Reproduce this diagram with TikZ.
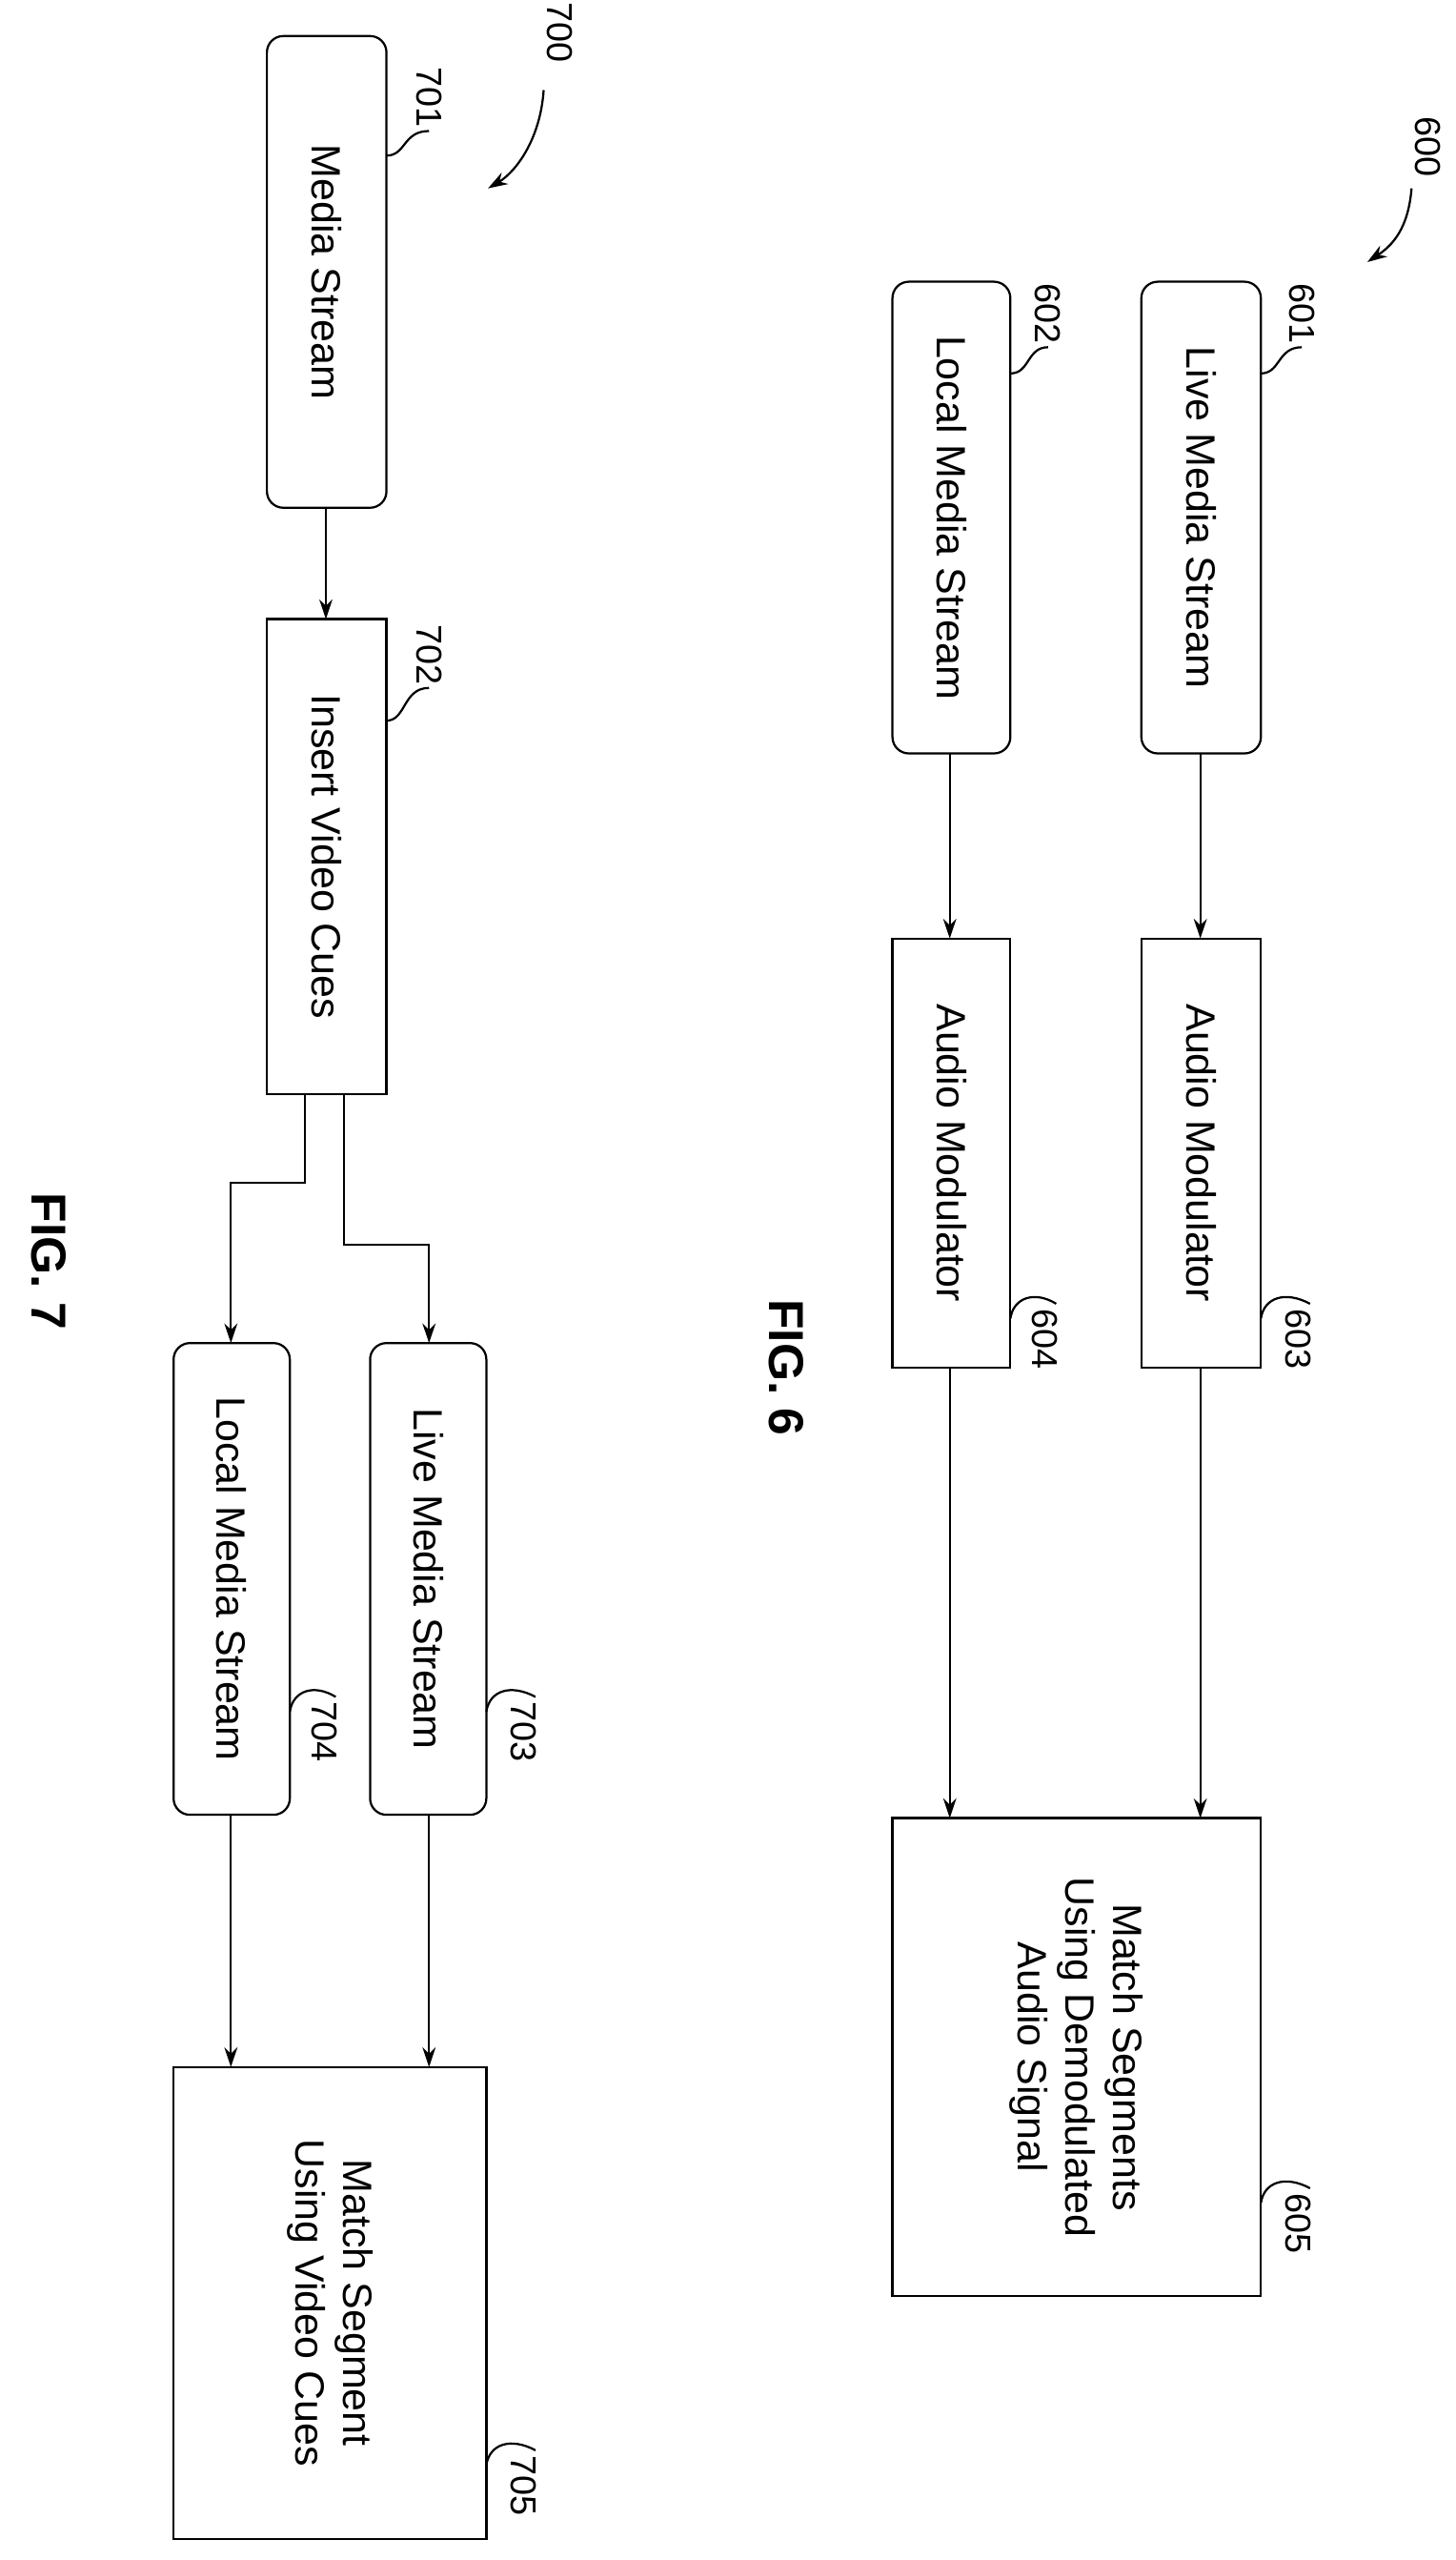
\documentclass[tikz,border=0pt]{standalone}
\usepackage{fontspec}
\setmainfont{Liberation Sans}
\usetikzlibrary{arrows.meta}
\begin{document}
\begin{tikzpicture}[x=1pt,y=-1pt,
  box/.style={draw,line width=1.3pt,inner sep=0pt},
  rbox/.style={box,rounded corners=10pt},
  txt/.style={rotate=-90,font=\fontsize{25}{29}\selectfont,align=center},
  lab/.style={rotate=-90,font=\fontsize{22}{26}\selectfont,anchor=west,inner sep=1pt},
  arr/.style={line width=1.3pt,-{Stealth[length=12pt,width=8pt]}},
  ln/.style={line width=1.3pt}]
\useasboundingbox (0,0) rectangle (889,1563);
% FIG 6
\draw[rbox] (697,172) rectangle (770,460) node[txt,midway] (n601) {Live Media Stream};
\draw[rbox] (545,172) rectangle (617,460) node[txt,midway] (n602) {Local Media Stream};
\draw[box] (697,573) rectangle (770,835) node[txt,midway] (n603) {Audio Modulator};
\draw[box] (545,573) rectangle (617,835) node[txt,midway] (n604) {Audio Modulator};
\draw[box] (545,1110) rectangle (770,1402) node[txt,midway] (n605) {Match Segments\\Using Demodulated\\Audio Signal};
\coordinate (a1) at (733,460); \coordinate (a2) at (733,573);
\draw[arr] (a1) -- (a2);
\coordinate (b1) at (580,460); \coordinate (b2) at (580,573);
\draw[arr] (b1) -- (b2);
\coordinate (c1) at (733,835); \coordinate (c2) at (733,1110);
\draw[arr] (c1) -- (c2);
\coordinate (d1) at (580,835); \coordinate (d2) at (580,1110);
\draw[arr] (d1) -- (d2);
\node[lab] (l601) at (795,172) {601};
\draw[ln] (770,228) .. controls (782,228) and (780,212) .. (795,212);
\node[lab] (l602) at (640,172) {602};
\draw[ln] (617,228) .. controls (629,228) and (627,212) .. (640,212);
\node[lab] (l603) at (793,798) {603};
\draw[ln] (770,805) .. controls (772,792) and (785,788) .. (800,796);
\node[lab] (l604) at (638,798) {604};
\draw[ln] (617,805) .. controls (619,792) and (632,788) .. (645,796);
\node[lab] (l605) at (793,1338) {605};
\draw[ln] (770,1345) .. controls (772,1332) and (785,1328) .. (800,1336);
\node[lab] (l600) at (872,70) {600};
\draw[arr] (862,115) .. controls (860,140) and (850,150) .. (835,160);
\node[rotate=-90,font=\bfseries\fontsize{30}{34}\selectfont] (f6) at (480,835) {FIG. 6};
% FIG 7
\draw[rbox] (163,22) rectangle (236,310) node[txt,midway] (n701) {Media Stream};
\draw[box] (163,378) rectangle (236,668) node[txt,midway] (n702) {Insert Video Cues};
\draw[rbox] (226,820) rectangle (297,1108) node[txt,midway] (n703) {Live Media Stream};
\draw[rbox] (106,820) rectangle (177,1108) node[txt,midway] (n704) {Local Media Stream};
\draw[box] (106,1262) rectangle (297,1550) node[txt,midway] (n705) {Match Segment\\Using Video Cues};
\coordinate (e1) at (199,310); \coordinate (e2) at (199,378);
\draw[arr] (e1) -- (e2);
\coordinate (f1) at (210,668); \coordinate (f2) at (262,820);
\draw[arr] (f1) -- (210,760) -- (262,760) -- (f2);
\coordinate (g1) at (186,668); \coordinate (g2) at (141,820);
\draw[arr] (g1) -- (186,722) -- (141,722) -- (g2);
\coordinate (h1) at (262,1108); \coordinate (h2) at (262,1262);
\draw[arr] (h1) -- (h2);
\coordinate (i1) at (141,1108); \coordinate (i2) at (141,1262);
\draw[arr] (i1) -- (i2);
\node[lab] (l701) at (262,40) {701};
\draw[ln] (236,95) .. controls (248,95) and (246,80) .. (262,80);
\node[lab] (l702) at (262,380) {702};
\draw[ln] (236,440) .. controls (248,440) and (246,420) .. (262,420);
\node[lab] (l703) at (320,1038) {703};
\draw[ln] (297,1045) .. controls (299,1032) and (312,1028) .. (327,1036);
\node[lab] (l704) at (198,1038) {704};
\draw[ln] (177,1045) .. controls (179,1032) and (192,1028) .. (205,1036);
\node[lab] (l705) at (320,1498) {705};
\draw[ln] (297,1505) .. controls (299,1492) and (312,1488) .. (327,1496);
\node[lab] (l700) at (342,0) {700};
\draw[arr] (332,55) .. controls (330,85) and (315,105) .. (298,115);
\node[rotate=-90,font=\bfseries\fontsize{30}{34}\selectfont] (f7) at (30,770) {FIG. 7};
\end{tikzpicture}
\end{document}
